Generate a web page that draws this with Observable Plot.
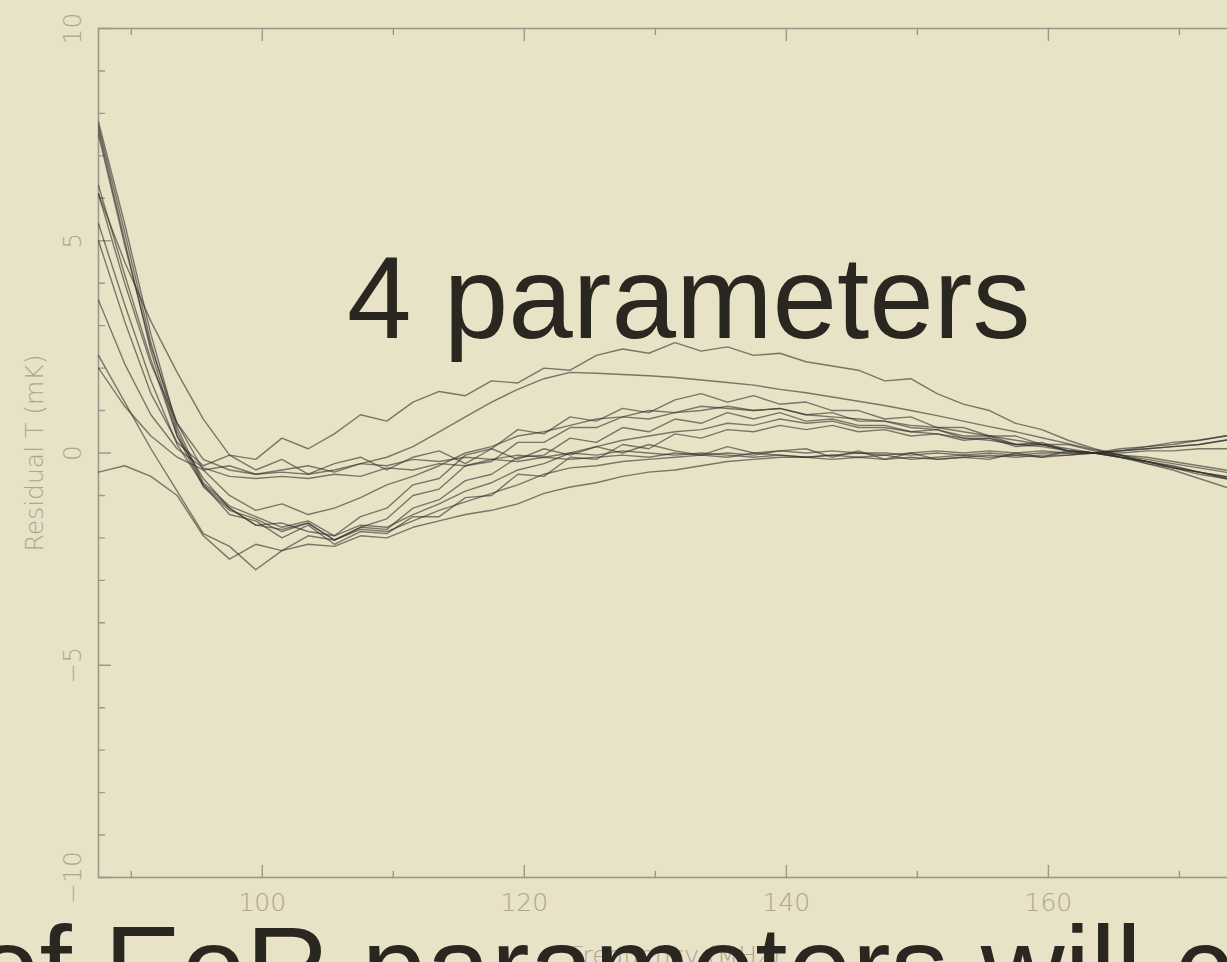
<!DOCTYPE html>
<html><head><meta charset="utf-8">
<script src="https://cdn.jsdelivr.net/npm/d3@7"></script>
<script src="https://cdn.jsdelivr.net/npm/@observablehq/plot@0.6"></script>
<style>
html,body{margin:0;padding:0;background:#e8e2c7;overflow:hidden;width:1227px;height:962px;}
#chart{position:absolute;left:0;top:0;width:1262px;}
#chart svg{max-width:none !important;}
.big{position:absolute;font-family:"Liberation Sans",Arial,sans-serif;font-size:116px;line-height:1;color:#2a2620;white-space:nowrap;}
</style></head><body>
<div id="chart"></div>
<div class="big" style="left:347px;top:240px;">4 parameters</div>
<div class="big" style="left:-25px;top:910px;">of EoR parameters will c</div>
<script>
// Frequency grid (MHz)
const freqs = [87.5, 89.5, 91.5, 93.5, 95.5, 97.5, 99.5, 101.5, 103.5, 105.5,
  107.5, 109.5, 111.5, 113.5, 115.5, 117.5, 119.5, 121.5, 123.5, 125.5,
  127.5, 129.5, 131.5, 133.5, 135.5, 137.5, 139.5, 141.5, 143.5, 145.5,
  147.5, 149.5, 151.5, 153.5, 155.5, 157.5, 159.5, 161.5, 163.5, 165.5,
  167.5, 169.5, 171.5, 173.5, 175.5];

// Residual T (mK) for each realisation
const c1 = [6.1, 4.5, 3.1, 1.9, 0.8, -0.05, -0.15, 0.35, 0.1, 0.45, 0.9, 0.75, 1.2, 1.45, 1.35, 1.7, 1.65, 2.0, 1.95, 2.3, 2.45, 2.35, 2.6, 2.4, 2.5, 2.3, 2.35, 2.15, 2.05, 1.95, 1.7, 1.75, 1.4, 1.15, 1.0, 0.7, 0.55, 0.3, 0.1, -0.05, -0.25, -0.4, -0.6, -0.8, -0.95];
const c2 = [6.1, 4.0, 2.1, 0.7, -0.15, -0.4, -0.5, -0.45, -0.5, -0.4, -0.25, -0.1, 0.15, 0.5, 0.85, 1.2, 1.5, 1.75, 1.9, 1.88, 1.85, 1.82, 1.78, 1.72, 1.66, 1.6, 1.5, 1.42, 1.32, 1.22, 1.12, 1.0, 0.88, 0.75, 0.62, 0.5, 0.36, 0.22, 0.08, -0.05, -0.2, -0.32, -0.45, -0.58, -0.7];
const c3 = [7.8, 5.4, 2.8, 0.6, -0.7, -1.25, -1.5, -1.75, -1.6, -1.95, -1.5, -1.3, -0.75, -0.6, -0.05, 0.1, 0.55, 0.45, 0.85, 0.75, 1.05, 0.95, 1.25, 1.4, 1.2, 1.35, 1.15, 1.2, 1.0, 1.0, 0.8, 0.85, 0.6, 0.6, 0.4, 0.4, 0.2, 0.2, 0.05, -0.1, -0.2, -0.35, -0.45, -0.6, -0.7];
const c4 = [7.7, 5.2, 2.6, 0.5, -0.75, -1.3, -1.7, -1.8, -1.65, -2.05, -1.75, -1.55, -1.0, -0.85, -0.3, -0.2, 0.25, 0.25, 0.6, 0.6, 0.85, 0.8, 0.95, 1.0, 1.1, 1.0, 1.05, 0.9, 0.95, 0.75, 0.75, 0.6, 0.55, 0.4, 0.4, 0.2, 0.25, 0.05, 0.0, -0.1, -0.25, -0.35, -0.5, -0.6, -0.75];
const c5 = [7.6, 5.0, 2.4, 0.4, -0.8, -1.35, -1.55, -1.85, -1.65, -2.05, -1.75, -1.8, -1.3, -1.1, -0.65, -0.5, -0.1, -0.05, 0.35, 0.25, 0.6, 0.5, 0.8, 0.7, 0.95, 0.8, 0.95, 0.75, 0.8, 0.65, 0.65, 0.5, 0.55, 0.35, 0.35, 0.2, 0.2, 0.05, 0.0, -0.1, -0.2, -0.35, -0.45, -0.55, -0.65];
const c6 = [6.3, 4.2, 2.2, 0.4, -0.6, -1.3, -1.7, -1.65, -1.85, -1.95, -1.7, -1.75, -1.45, -1.2, -0.9, -0.7, -0.4, -0.25, 0.0, 0.15, 0.3, 0.4, 0.5, 0.55, 0.7, 0.65, 0.8, 0.7, 0.75, 0.6, 0.6, 0.5, 0.45, 0.35, 0.3, 0.2, 0.15, 0.05, 0.0, -0.05, -0.15, -0.25, -0.35, -0.45, -0.55];
const c7 = [5.4, 3.5, 1.7, 0.2, -0.75, -1.45, -1.6, -2.0, -1.7, -2.15, -1.85, -1.9, -1.5, -1.5, -1.05, -1.0, -0.5, -0.55, -0.1, -0.15, 0.2, 0.1, 0.45, 0.35, 0.55, 0.5, 0.65, 0.55, 0.65, 0.5, 0.55, 0.4, 0.45, 0.3, 0.35, 0.15, 0.2, 0.05, 0.0, -0.05, -0.1, -0.2, -0.3, -0.4, -0.5];
const c8 = [7.5, 4.9, 2.5, 0.7, -0.4, -1.0, -1.35, -1.2, -1.45, -1.3, -1.05, -0.75, -0.55, -0.3, 0.0, 0.15, 0.4, 0.5, 0.65, 0.8, 0.85, 1.0, 0.95, 1.1, 1.05, 1.0, 1.05, 0.9, 0.85, 0.8, 0.75, 0.65, 0.6, 0.5, 0.4, 0.3, 0.2, 0.1, 0.0, -0.1, -0.2, -0.3, -0.45, -0.55, -0.65];
const d1 = [2.3, 1.2, 0.1, -0.9, -1.9, -2.2, -2.75, -2.3, -2.15, -2.2, -1.95, -2.0, -1.75, -1.6, -1.45, -1.35, -1.2, -0.95, -0.8, -0.7, -0.55, -0.45, -0.4, -0.3, -0.2, -0.15, -0.1, -0.1, -0.05, 0.0, -0.05, 0.0, 0.05, 0.0, 0.05, 0.0, 0.05, 0.0, 0.0, 0.05, 0.1, 0.15, 0.2, 0.3, 0.35];
const d2 = [-0.45, -0.3, -0.55, -1.0, -1.95, -2.5, -2.15, -2.3, -1.95, -2.05, -1.8, -1.85, -1.6, -1.35, -1.15, -0.95, -0.75, -0.5, -0.35, -0.3, -0.2, -0.15, -0.1, -0.05, 0.0, -0.05, 0.05, 0.0, 0.05, 0.0, 0.0, -0.05, 0.0, -0.05, 0.0, -0.05, 0.0, 0.0, 0.0, 0.05, 0.15, 0.2, 0.3, 0.4, 0.5];
const f1 = [3.6, 2.1, 0.9, 0.1, -0.35, -0.55, -0.6, -0.55, -0.6, -0.5, -0.55, -0.35, -0.4, -0.25, -0.3, -0.15, -0.2, -0.1, -0.15, -0.1, -0.05, -0.1, 0.0, -0.05, -0.1, 0.0, -0.05, -0.1, -0.05, -0.1, -0.05, -0.15, -0.1, -0.05, -0.1, -0.05, -0.1, -0.05, 0.0, 0.05, 0.1, 0.15, 0.2, 0.3, 0.35];
const f2 = [5.0, 3.1, 1.4, 0.25, -0.3, -0.05, -0.4, -0.15, -0.5, -0.25, -0.1, -0.4, -0.1, 0.05, -0.25, 0.1, -0.15, 0.1, -0.05, 0.15, 0.0, 0.2, 0.05, -0.05, 0.15, 0.0, 0.05, 0.1, -0.1, 0.05, -0.15, 0.0, -0.15, -0.1, -0.15, 0.0, -0.1, 0.05, 0.0, 0.1, 0.15, 0.25, 0.3, 0.4, 0.5];
const f3 = [2.0, 1.1, 0.4, -0.1, -0.4, -0.3, -0.5, -0.4, -0.3, -0.45, -0.25, -0.3, -0.15, -0.2, -0.1, -0.15, -0.05, -0.1, 0.0, -0.05, 0.05, 0.0, -0.05, 0.0, -0.05, -0.1, -0.05, -0.1, -0.15, -0.1, -0.15, -0.1, -0.15, -0.1, -0.05, -0.1, -0.05, -0.05, 0.0, 0.0, 0.05, 0.05, 0.1, 0.1, 0.15];

const seriesNames = ["c1","c2","c3","c4","c5","c6","c7","c8","d1","d2","f1","f2","f3"];
const seriesValues = [c1,c2,c3,c4,c5,c6,c7,c8,d1,d2,f1,f2,f3];

// Axis ticks and labels
const xMajor = [100, 120, 140, 160];
const xMinor = [90, 110, 130, 150, 170];
const yMajor = [-10, -5, 0, 5, 10];
const yMinor = [-9, -8, -7, -6, -4, -3, -2, -1, 1, 2, 3, 4, 6, 7, 8, 9];
const yLabels = ["\u221210", "\u22125", "0", "5", "10"];
const xTitle = "Frequency (MHz)";
const yTitle = "Residual T (mK)";

const rows = seriesNames.flatMap((name, s) =>
  seriesValues[s].map((v, i) => ({series: name, freq: freqs[i], value: v})));

const axisColor = "#9d998a";
const labelColor = "#aaa692";
const lineColor = "#2f2e2a";
const font = "'DejaVu Sans', sans-serif";
// plain straight tick (no arrow head)
const tickShape = {draw(context, l) { context.moveTo(0, 0); context.lineTo(0, -l); }};
const tickOpts = {anchor: "start", shape: tickShape, stroke: axisColor, strokeWidth: 1.4};
const labelOpts = {fontSize: 25, fontFamily: font, fontWeight: 200, fill: labelColor, textAnchor: "middle"};

const chart = Plot.plot({
  width: 1262, height: 962,
  marginLeft: 98, marginRight: 11, marginTop: 28, marginBottom: 85,
  x: {domain: [87.5, 175.5], axis: null},
  y: {domain: [-10, 10], axis: null},
  style: {background: "transparent", overflow: "visible", maxWidth: "none"},
  marks: [
    Plot.frame({stroke: axisColor, strokeWidth: 1.6}),
    // bottom ticks (inward)
    Plot.vector(xMajor, {x: d => d, frameAnchor: "bottom", rotate: 0, length: 12, ...tickOpts}),
    Plot.vector(xMinor, {x: d => d, frameAnchor: "bottom", rotate: 0, length: 6, ...tickOpts}),
    // top ticks (inward)
    Plot.vector(xMajor, {x: d => d, frameAnchor: "top", rotate: 180, length: 12, ...tickOpts}),
    Plot.vector(xMinor, {x: d => d, frameAnchor: "top", rotate: 180, length: 6, ...tickOpts}),
    // left ticks (inward)
    Plot.vector(yMajor, {y: d => d, frameAnchor: "left", rotate: 90, length: 12, ...tickOpts}),
    Plot.vector(yMinor, {y: d => d, frameAnchor: "left", rotate: 90, length: 6, ...tickOpts}),
    // data
    Plot.line(rows, {x: "freq", y: "value", z: "series", stroke: lineColor, strokeOpacity: 0.6, strokeWidth: 1.4, clip: true}),
    // tick labels
    Plot.text(xMajor, {x: d => d, frameAnchor: "bottom", dy: 33, lineAnchor: "bottom", text: d => String(d), ...labelOpts}),
    Plot.text(yMajor, {y: d => d, frameAnchor: "left", dx: -18, rotate: -90, lineAnchor: "bottom", text: (d, i) => yLabels[i], ...labelOpts}),
    // axis titles
    Plot.text([xTitle], {frameAnchor: "bottom", dy: 86, lineAnchor: "bottom", text: d => d, ...labelOpts}),
    Plot.text([yTitle], {frameAnchor: "left", dx: -56, rotate: -90, lineAnchor: "bottom", text: d => d, ...labelOpts})
  ]
});
document.getElementById("chart").appendChild(chart);
</script>
</body></html>
